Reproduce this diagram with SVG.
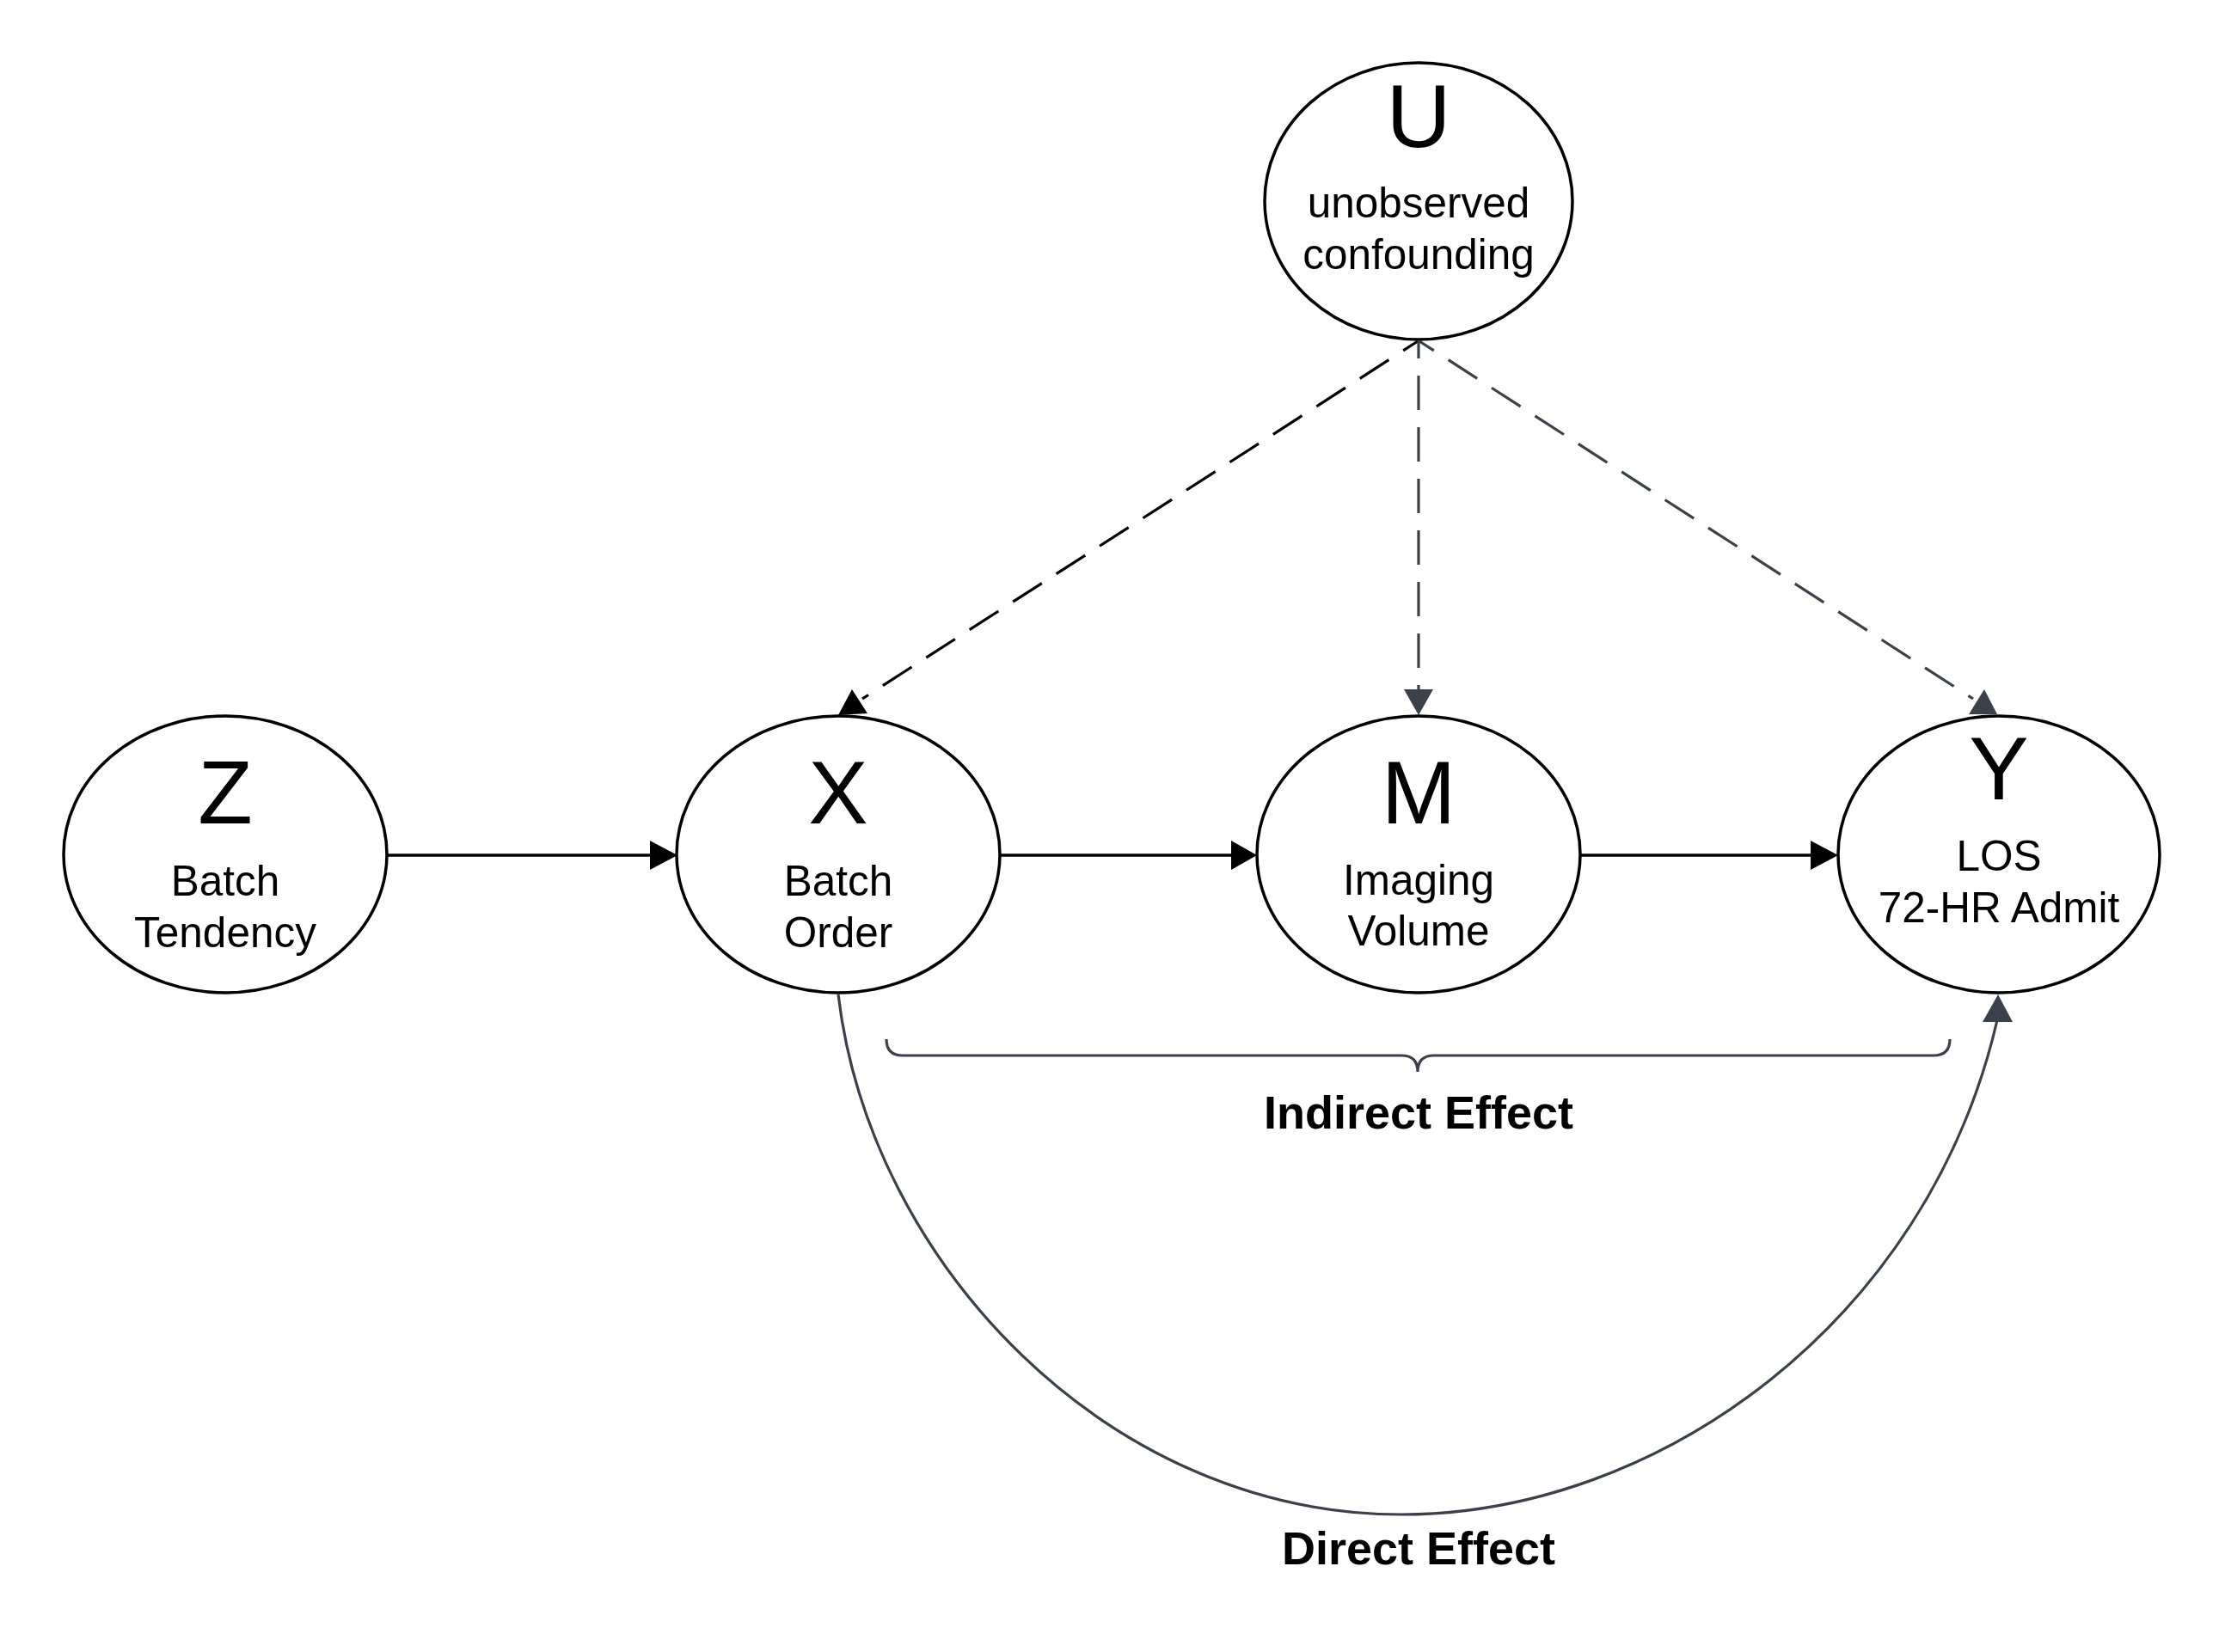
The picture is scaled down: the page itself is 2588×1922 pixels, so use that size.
<svg xmlns="http://www.w3.org/2000/svg" width="2588" height="1922" viewBox="0 0 2588 1922">
<style>
.node{fill:#fff;stroke:#000;stroke-width:3.5}
.big{font-family:"Liberation Sans",Arial,sans-serif;font-size:104px;fill:#000;text-anchor:middle}
.lbl{font-family:"Liberation Sans",Arial,sans-serif;font-size:49.5px;fill:#000;text-anchor:middle}
.eff{font-family:"Liberation Sans",Arial,sans-serif;font-size:54px;font-weight:bold;fill:#000;text-anchor:middle}
.solid{fill:none;stroke:#000;stroke-width:3.5}
.dash{fill:none;stroke-width:3.2;stroke-dasharray:40 20;stroke-dashoffset:20}
.slate{fill:none;stroke:#3a414a;stroke-width:3.2}
</style>
<rect width="2588" height="1922" fill="#fff"/>
<g id="connectors">
<line class="solid" x1="449" y1="995" x2="758" y2="995"/>
<polygon points="788,995 756,978 756,1012" fill="#000"/>
<line class="solid" x1="1163" y1="995" x2="1434" y2="995"/>
<polygon points="1462,995 1432,978 1432,1012" fill="#000"/>
<line class="solid" x1="1837" y1="995" x2="2108" y2="995"/>
<polygon points="2138,995 2106,978 2106,1012" fill="#000"/>
<line class="dash" x1="1649" y1="397" x2="1003" y2="813" stroke="#000"/>
<polygon points="991,802 975,832 1009,830" fill="#000"/>
<line class="dash" x1="1650" y1="397" x2="1650" y2="803" stroke="#3a414a"/>
<polygon points="1633,802 1667,802 1650,832" fill="#3a414a"/>
<line class="dash" x1="1651" y1="397" x2="2295" y2="813" stroke="#3a414a"/>
<polygon points="2308,802 2290,831 2323,831" fill="#3a414a"/>
<path class="slate" d="M975,1157 C1012,1470 1290,1762 1630,1762 C1930,1762 2242,1537 2323,1187"/>
<polygon points="2324,1157 2306,1189 2341,1189" fill="#3a414a"/>
<path class="slate" d="M1031,1209 Q1031,1228 1050,1228 L1630,1228 Q1649,1228 1649,1247 Q1649,1228 1668,1228 L2249,1228 Q2268,1228 2268,1209"/>
</g>
<g id="node-U">
<ellipse class="node" cx="1650" cy="234" rx="179" ry="161"/>
<text class="big" x="1650" y="171">U</text>
<text class="lbl" x="1650" y="253">unobserved</text>
<text class="lbl" x="1650" y="313">confounding</text>
</g>
<g id="node-Z">
<ellipse class="node" cx="262" cy="994" rx="188" ry="161"/>
<text class="big" x="262" y="958">Z</text>
<text class="lbl" x="262" y="1042">Batch</text>
<text class="lbl" x="262" y="1102">Tendency</text>
</g>
<g id="node-X">
<ellipse class="node" cx="975" cy="994" rx="188" ry="161"/>
<text class="big" x="975" y="958">X</text>
<text class="lbl" x="975" y="1042">Batch</text>
<text class="lbl" x="975" y="1102">Order</text>
</g>
<g id="node-M">
<ellipse class="node" cx="1650" cy="994" rx="188" ry="161"/>
<text class="big" x="1650" y="958">M</text>
<text class="lbl" x="1650" y="1041">Imaging</text>
<text class="lbl" x="1650" y="1100">Volume</text>
</g>
<g id="node-Y">
<ellipse class="node" cx="2325" cy="994" rx="187" ry="161"/>
<text class="big" x="2325" y="930">Y</text>
<text class="lbl" x="2325" y="1013">LOS</text>
<text class="lbl" x="2325" y="1073">72-HR Admit</text>
</g>
<g id="labels">
<text class="eff" x="1650" y="1313">Indirect Effect</text>
<text class="eff" x="1650" y="1820">Direct Effect</text>
</g>
</svg>
